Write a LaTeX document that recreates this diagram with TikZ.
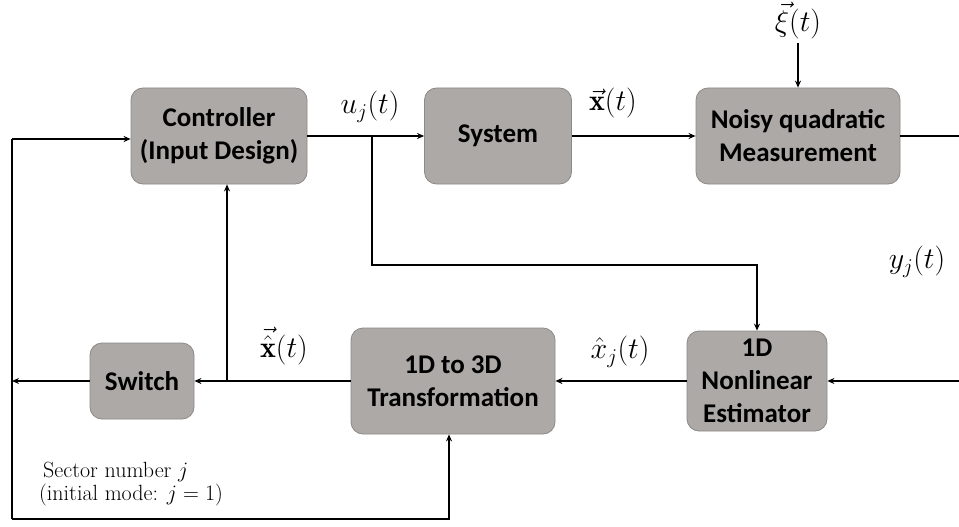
\RequirePackage{fix-cm}
\documentclass[tikz,border=0pt]{standalone}
\usepackage{fontspec}
\newfontfamily\blkfont{Carlito}
\usepackage{amsmath}
\usepackage{tikz}
\usetikzlibrary{arrows.meta, positioning, calc}
\definecolor{blkGray}{RGB}{172, 169, 167}
\definecolor{blkEdge}{RGB}{140, 137, 135}

\begin{document}
\begin{tikzpicture}[x=1pt, y=-1pt,
  blk/.style={rectangle, draw=blkEdge, fill=blkGray, rounded corners=12pt, line width=0.8pt,
              align=center, inner sep=0pt, font=\blkfont\bfseries\fontsize{27}{33}\selectfont},
  sig/.style={font=\fontsize{30}{34}\selectfont, inner sep=1pt},
  arrow/.style={-{Stealth[length=7pt, width=6pt]}, line width=1.8pt},
  wire/.style={line width=1.8pt},
]
  \useasboundingbox (0,0) rectangle (959,527);

  % blocks
  \node[blk, minimum width=176pt, minimum height=96pt] (ctrl) at (219,136) {Controller\\(Input Design)};
  \node[blk, minimum width=147pt, minimum height=96pt] (sys) at (498,136) {System};
  \node[blk, minimum width=204pt, minimum height=96pt] (meas) at (798,136) {Noisy quadratic\\Measurement};
  \node[blk, minimum width=140pt, minimum height=100pt] (est) at (757,381) {1D\\Nonlinear\\Estimator};
  \node[blk, minimum width=204pt, minimum height=106pt] (tr) at (453,381) {1D to 3D\\Transformation};
  \node[blk, minimum width=104pt, minimum height=76pt] (sw) at (142,381) {Switch};

  % signal labels
  \node[sig] (u) at (370,107) {$u_j(t)$};
  \node[sig] (x) at (613,103) {$\vec{\mathbf{x}}(t)$};
  \node[sig] (xi) at (798,21) {$\vec{\xi}(t)$};
  \node[sig] (y) at (917,262) {$y_j(t)$};
  \node[sig] (xh) at (620,352) {$\hat{x}_j(t)$};
  \node[sig] (xv) at (284,346) {$\vec{\hat{\mathbf{x}}}(t)$};
  \node[anchor=north west, align=left, font=\fontsize{22}{23}\selectfont, inner sep=0pt]
    (sec) at (39,462) {\hspace{4pt}Sector number $j$\\(initial mode: $j=1$)};

  % junctions and loose ends
  \coordinate (bu) at (372,136);
  \coordinate (bx) at (227,381);
  \coordinate (outR) at (959,136);
  \coordinate (inR) at (959,381);
  \coordinate (lft) at (12,381);
  \coordinate (lt) at (12,139);
  \coordinate (lb) at (12,519);

  % forward path
  \draw[arrow] (ctrl) -- (sys);
  \draw[arrow] (sys) -- (meas);
  \draw[arrow] (798,43) -- (meas);
  \draw[wire] (meas) -- (outR);
  \draw[arrow] (bu) |- ($(est.north)+(0,-66)$) -- (est.north);

  % estimation path
  \draw[arrow] (inR) -- (est);
  \draw[arrow] (est) -- (tr);
  \draw[arrow] (tr) -- (sw);
  \draw[arrow] (bx) -- (bx |- ctrl.south);
  \draw[arrow] (sw) -- (lft);

  % sector feedback
  \draw[wire] (lt) -- (lb);
  \draw[arrow] (lt) -- (lt -| ctrl.west);
  \draw[arrow] (lb) -| ([xshift=-4pt]tr.south);
\end{tikzpicture}
\end{document}
